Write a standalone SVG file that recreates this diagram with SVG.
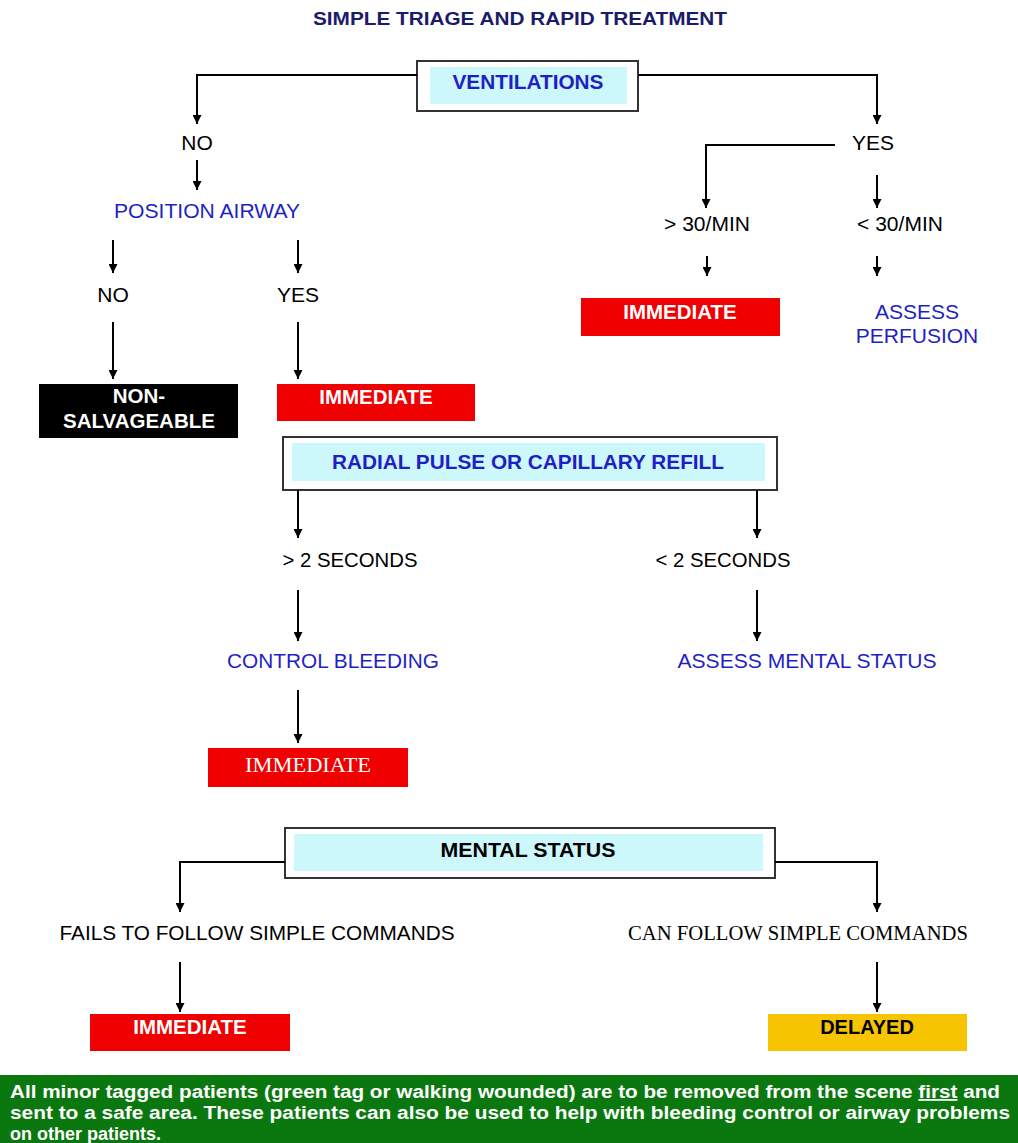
<svg xmlns="http://www.w3.org/2000/svg" width="1018" height="1143" viewBox="0 0 1018 1143">
<defs>
<marker id="ah" viewBox="0 0 10 10" refX="10" refY="5" markerWidth="9" markerHeight="9" markerUnits="userSpaceOnUse" orient="auto"><path d="M0,0 L10,5 L0,10 z" fill="#000"/></marker>
<style>
.t{font-family:"Liberation Sans",Arial,sans-serif;font-size:21px;fill:#000;text-anchor:middle}
.b{fill:#1f1fc4}
.bb{font-weight:bold;fill:#1f1fc4}
.w{font-weight:bold;fill:#fff;font-size:20.5px}
.sf{font-family:"Liberation Serif","Times New Roman",serif}
.c line,.c polyline{stroke:#000;stroke-width:2;fill:none;marker-end:url(#ah)}
.ob{fill:#fff;stroke:#333;stroke-width:2}
.ib{fill:#ccf7fb}
</style>
</defs>
<rect width="1018" height="1143" fill="#fff"/>
<text class="t" x="520" y="25" style="font-weight:bold;fill:#1b1b6b;font-size:19px" textLength="414" lengthAdjust="spacingAndGlyphs">SIMPLE TRIAGE AND RAPID TREATMENT</text>

<g id="ventilations"><rect class="ob" x="417" y="61" width="221" height="50"/><rect class="ib" x="430" y="67" width="197" height="37"/><text class="t bb" x="528" y="89" textLength="151" lengthAdjust="spacingAndGlyphs">VENTILATIONS</text></g>
<g id="no1"><text class="t" x="197" y="150">NO</text></g>
<g id="position-airway"><text class="t b" x="207" y="218" textLength="186" lengthAdjust="spacingAndGlyphs">POSITION AIRWAY</text></g>
<g id="no2"><text class="t" x="113" y="302">NO</text></g>
<g id="yes2"><text class="t" x="298" y="302">YES</text></g>
<g id="non-salvageable"><rect x="39" y="384" width="199" height="54" fill="#000"/><text class="t w" x="139" y="403">NON-</text><text class="t w" x="139" y="428">SALVAGEABLE</text></g>
<g id="immediate1"><rect x="277" y="384" width="198" height="37" fill="#f00000"/><text class="t w" x="376" y="404">IMMEDIATE</text></g>
<g id="yes1"><text class="t" x="873" y="150">YES</text></g>
<g id="gt30"><text class="t" x="707" y="231">&gt; 30/MIN</text></g>
<g id="lt30"><text class="t" x="900" y="231">&lt; 30/MIN</text></g>
<g id="immediate2"><rect x="581" y="298" width="199" height="38" fill="#f00000"/><text class="t w" x="680" y="319">IMMEDIATE</text></g>
<g id="assess-perfusion"><text class="t b" x="917" y="319">ASSESS</text><text class="t b" x="917" y="343">PERFUSION</text></g>
<g id="radial"><rect class="ob" x="283" y="437" width="494" height="53"/><rect class="ib" x="292" y="443" width="473" height="38"/><text class="t bb" x="528" y="469" textLength="392" lengthAdjust="spacingAndGlyphs">RADIAL PULSE OR CAPILLARY REFILL</text></g>
<g id="gt2"><text class="t" x="350" y="567" textLength="135" lengthAdjust="spacingAndGlyphs">&gt; 2 SECONDS</text></g>
<g id="lt2"><text class="t" x="723" y="567" textLength="135" lengthAdjust="spacingAndGlyphs">&lt; 2 SECONDS</text></g>
<g id="control-bleeding"><text class="t b" x="333" y="668" textLength="212" lengthAdjust="spacingAndGlyphs">CONTROL BLEEDING</text></g>
<g id="assess-mental"><text class="t b" x="807" y="668" textLength="259" lengthAdjust="spacingAndGlyphs">ASSESS MENTAL STATUS</text></g>
<g id="immediate3"><rect x="208" y="748" width="200" height="39" fill="#f00000"/><text class="t sf" x="308" y="772" style="fill:#fff;font-size:20px" textLength="126" lengthAdjust="spacingAndGlyphs">IMMEDIATE</text></g>
<g id="mental-status"><rect class="ob" x="285" y="828" width="490" height="50"/><rect class="ib" x="294" y="834" width="469" height="37"/><text class="t" x="528" y="857" style="font-weight:bold" textLength="175" lengthAdjust="spacingAndGlyphs">MENTAL STATUS</text></g>
<g id="fails"><text class="t" x="257" y="940" textLength="395" lengthAdjust="spacingAndGlyphs">FAILS TO FOLLOW SIMPLE COMMANDS</text></g>
<g id="can-follow"><text class="t sf" x="798" y="940" textLength="340" lengthAdjust="spacingAndGlyphs">CAN FOLLOW SIMPLE COMMANDS</text></g>
<g id="immediate4"><rect x="90" y="1014" width="200" height="37" fill="#f00000"/><text class="t w" x="190" y="1034">IMMEDIATE</text></g>
<g id="delayed"><rect x="768" y="1014" width="199" height="37" fill="#f6c400"/><text class="t" x="867" y="1034" style="font-weight:bold;font-size:20px">DELAYED</text></g>
<g id="note"><rect x="0" y="1075" width="1018" height="68" fill="#0b780f"/>
<text style="font-family:'Liberation Sans',Arial,sans-serif;font-size:18px;font-weight:bold;fill:#fff"><tspan x="10" y="1098" textLength="990" lengthAdjust="spacingAndGlyphs">All minor tagged patients (green tag or walking wounded) are to be removed from the scene <tspan text-decoration="underline">first</tspan> and</tspan><tspan x="10" y="1119" textLength="1000" lengthAdjust="spacingAndGlyphs">sent to a safe area.  These patients can also be used to help with bleeding control or airway problems</tspan><tspan x="10" y="1140">on other patients.</tspan></text></g>

<g id="connectors" class="c">
<polyline points="417,75 197,75 197,124"/>
<line x1="197" y1="160" x2="197" y2="190"/>
<line x1="113" y1="240" x2="113" y2="273"/>
<line x1="298" y1="240" x2="298" y2="273"/>
<line x1="113" y1="322" x2="113" y2="379"/>
<line x1="298" y1="322" x2="298" y2="379"/>
<polyline points="638,75 877,75 877,124"/>
<polyline points="835,145 706,145 706,208"/>
<line x1="877" y1="175" x2="877" y2="208"/>
<line x1="707" y1="256" x2="707" y2="276"/>
<line x1="877" y1="256" x2="877" y2="276"/>
<line x1="298" y1="490" x2="298" y2="538"/>
<line x1="757" y1="490" x2="757" y2="538"/>
<line x1="298" y1="590" x2="298" y2="641"/>
<line x1="757" y1="590" x2="757" y2="641"/>
<line x1="298" y1="690" x2="298" y2="743"/>
<polyline points="285,862 180,862 180,912"/>
<polyline points="775,862 877,862 877,912"/>
<line x1="180" y1="962" x2="180" y2="1012"/>
<line x1="877" y1="962" x2="877" y2="1012"/>
</g>
</svg>
